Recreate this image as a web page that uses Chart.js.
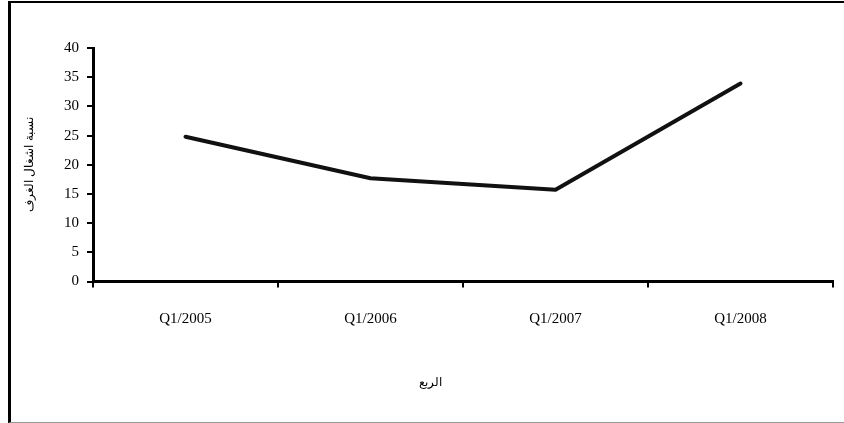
<!DOCTYPE html>
<html>
<head>
<meta charset="utf-8">
<script src="https://cdn.jsdelivr.net/npm/chart.js@4"></script>
<style>
  html, body { margin: 0; padding: 0; background: #fff; }
  #wrap { position: relative; width: 844px; height: 423px; }
  #frame { position: absolute; left: 8px; top: 1px; width: 836px; height: 419px;
           border-top: 2px solid #000; border-left: 3px solid #000; border-bottom: 1px solid #999;
           box-sizing: content-box; pointer-events: none; }
  canvas { position: absolute; left: 0; top: 0; }
</style>
</head>
<body>
<div id="wrap">
  <canvas id="c" width="844" height="423"></canvas>
  <div id="frame"></div>
</div>
<script>
const categories = ['Q1/2005', 'Q1/2006', 'Q1/2007', 'Q1/2008'];
const occupancy = [24.8, 17.7, 15.7, 33.9];
const yTicks = [0, 5, 10, 15, 20, 25, 30, 35, 40];
const xTitle = 'الربع';
const yTitle = 'نسبة اشغال الغرف';

const xTitlePlugin = {
  id: 'xTitle',
  afterDraw(chart) {
    const ctx = chart.ctx;
    const a = chart.chartArea;
    ctx.save();
    ctx.font = '12px "Liberation Sans", Arial, sans-serif';
    ctx.fillStyle = '#000';
    ctx.textAlign = 'center';
    ctx.textBaseline = 'middle';
    ctx.fillText(xTitle, (a.left + a.right) / 2 - 33, 383);
    ctx.restore();
  }
};

new Chart(document.getElementById('c'), {
  type: 'line',
  data: {
    labels: categories,
    datasets: [{
      data: occupancy,
      borderColor: '#111',
      borderWidth: 4,
      borderCapStyle: 'round',
      borderJoinStyle: 'round',
      pointRadius: 0,
      tension: 0,
      fill: false
    }]
  },
  options: {
    responsive: false,
    animation: false,
    devicePixelRatio: 1,
    layout: { padding: { left: 0, right: 11, top: 48, bottom: 0 } },
    plugins: { legend: { display: false }, tooltip: { enabled: false } },
    scales: {
      x: {
        offset: true,
        grid: { display: true, drawOnChartArea: false, drawTicks: true, tickLength: 6, color: '#000', lineWidth: 2, offset: true },
        border: { display: true, color: '#000', width: 3 },
        ticks: { color: '#000', padding: 23, maxRotation: 0, font: { family: '"Liberation Serif", "Times New Roman", serif', size: 15 } },
        afterFit(scale) { scale.height = 141.5; }
      },
      y: {
        min: 0, max: 40,
        afterBuildTicks(scale) { scale.ticks = yTicks.map(v => ({ value: v })); },
        grid: { display: true, drawOnChartArea: false, drawTicks: true, tickLength: 6, color: '#000', lineWidth: 2 },
        border: { display: true, color: '#000', width: 3 },
        ticks: { color: '#000', padding: 8, font: { family: '"Liberation Serif", "Times New Roman", serif', size: 15 } },
        title: { display: true, text: yTitle, color: '#000', padding: { top: 22, bottom: 0 },
                 font: { family: '"Liberation Sans", Arial, sans-serif', size: 12 } },
        afterFit(scale) { scale.width = 93; }
      }
    }
  },
  plugins: [xTitlePlugin]
});
</script>
</body>
</html>
